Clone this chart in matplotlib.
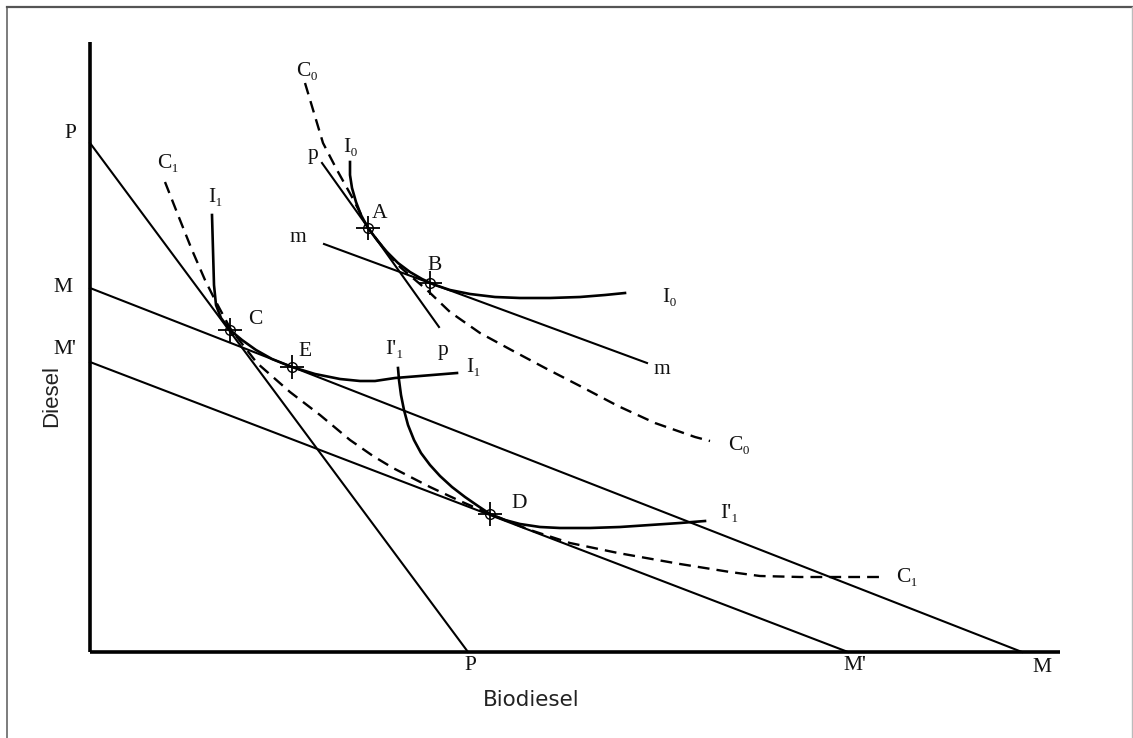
import matplotlib
matplotlib.use("Agg")
import matplotlib.pyplot as plt
from matplotlib.lines import Line2D

# units: biodiesel (x) and diesel (y), origin at the corner of the axes
axis_x_end = 970
axis_y_end = 610

# budget lines (two end points each)
pp_big_x, pp_big_y = [0, 378], [509, 0]          # P-P
mm_big_x, mm_big_y = [0, 932], [364, 0]          # M-M
mm2_big_x, mm2_big_y = [0, 758], [290, 0]        # M'-M'
m_small_x, m_small_y = [234, 557], [408, 289]    # m-m
p_small_x, p_small_y = [232, 349], [489, 325]    # p-p

# indifference curves
i0_x = [260, 260, 262, 266, 271, 278, 287, 297, 308, 320, 332, 345, 360, 380, 405, 430, 460, 490, 515, 535]
i0_y = [490, 477, 464, 450, 437, 424, 412, 400, 389, 380, 373, 367, 362, 358, 355, 354, 354, 355, 357, 359]

i1_x = [122, 123, 124, 126, 131, 140, 152, 166, 182, 202, 225, 250, 270, 285, 305, 330, 367]
i1_y = [437, 402, 367, 347, 334, 322, 312, 302, 293, 285, 278, 273, 271, 271, 274, 276, 279]

i1b_x = [308, 309, 311, 314, 318, 324, 331, 340, 350, 362, 375, 388, 400, 415, 430, 450, 470, 500, 530, 560, 590, 615]
i1b_y = [284, 272, 257, 242, 227, 212, 199, 187, 176, 165, 155, 146, 138, 132, 128, 125, 124, 124, 125, 127, 129, 131]

# consumption paths (dashed)
c0_x = [215, 224, 233, 247, 262, 278, 295, 310, 337, 360, 390, 425, 457, 490, 528, 565, 605, 620]
c0_y = [569, 539, 509, 482, 455, 424, 402, 385, 362, 340, 319, 300, 283, 266, 246, 229, 215, 211]

c1_x = [75, 88, 102, 115, 125, 140, 153, 167, 200, 230, 260, 283, 303, 340, 370, 400, 440, 480, 528, 590, 640, 670, 710, 796]
c1_y = [470, 437, 402, 372, 352, 324, 307, 289, 260, 237, 212, 196, 184, 165, 151, 138, 122, 109, 99, 88, 80, 76, 75, 75]

# equilibrium points
pt_x = [278, 340, 140, 400, 202]
pt_y = [424, 369, 322, 138, 285]

# curve / axis labels
lab_text = ["C\u2080", "p", "I\u2080", "A", "m", "B", "I\u2080", "p", "m", "C\u2080",
            "P", "C\u2081", "I\u2081", "M", "C", "M'", "E", "I'\u2081", "I\u2081", "D",
            "I'\u2081", "C\u2081", "P", "M'", "M"]
lab_x = [217, 223, 261, 290, 208, 345, 580, 353, 572, 649,
         -20, 78, 126, -27, 165, -25, 215, 305, 384, 429,
         640, 817, 380, 765, 952]
lab_y = [580, 497, 505, 439, 414, 386, 355, 302, 282, 207,
         519, 489, 454, 365, 332, 302, 300, 302, 284, 149,
         139, 75, -13, -13, -16]

serif = ["Liberation Serif", "DejaVu Serif"]

fig = plt.figure(figsize=(11.33, 7.38), dpi=100)
ax = fig.add_axes([0, 0, 1, 1])
ax.set_xlim(-90, 1043)
ax.set_ylim(-86, 652)
ax.axis("off")

# frame round the picture
fig.add_artist(Line2D([7 / 1133, 7 / 1133], [0, 1 - 7 / 738], color="#666666", lw=1.2))
fig.add_artist(Line2D([7 / 1133, 1132 / 1133], [1 - 7 / 738, 1 - 7 / 738], color="#555555", lw=1.6))
fig.add_artist(Line2D([1131.5 / 1133, 1131.5 / 1133], [0, 1 - 7 / 738], color="#bbbbbb", lw=1.0))

# axes
ax.plot([0, 0], [0, axis_y_end], color="black", lw=2.6, solid_capstyle="butt")
ax.plot([0, axis_x_end], [0, 0], color="black", lw=2.6, solid_capstyle="butt")

for xs, ys in [(pp_big_x, pp_big_y), (mm_big_x, mm_big_y), (mm2_big_x, mm2_big_y),
               (m_small_x, m_small_y), (p_small_x, p_small_y)]:
    ax.plot(xs, ys, color="black", lw=1.5)

for xs, ys in [(i0_x, i0_y), (i1_x, i1_y), (i1b_x, i1b_y)]:
    ax.plot(xs, ys, color="black", lw=1.9, solid_joinstyle="round")

for xs, ys in [(c0_x, c0_y), (c1_x, c1_y)]:
    ax.plot(xs, ys, color="black", lw=1.7, linestyle=(0, (5, 3)))

ax.plot(pt_x, pt_y, linestyle="none", marker="+", markersize=17, mew=1.3, color="black")
ax.plot(pt_x, pt_y, linestyle="none", marker="o", markersize=7, mew=1.0,
        mfc="none", mec="black")

for t, x, y in zip(lab_text, lab_x, lab_y):
    ax.text(x, y, t, family=serif, fontsize=15.5, ha="center", va="center", color="#111111")

ax.text(441, -48, "Biodiesel", family="DejaVu Sans",
        fontsize=15.5, ha="center", va="center", color="#222222")
ax.text(-38, 256, "Diesel", family="Liberation Sans",
        fontsize=16, ha="center", va="center", rotation=90, color="#222222")

fig.savefig("out.png", dpi=100)
